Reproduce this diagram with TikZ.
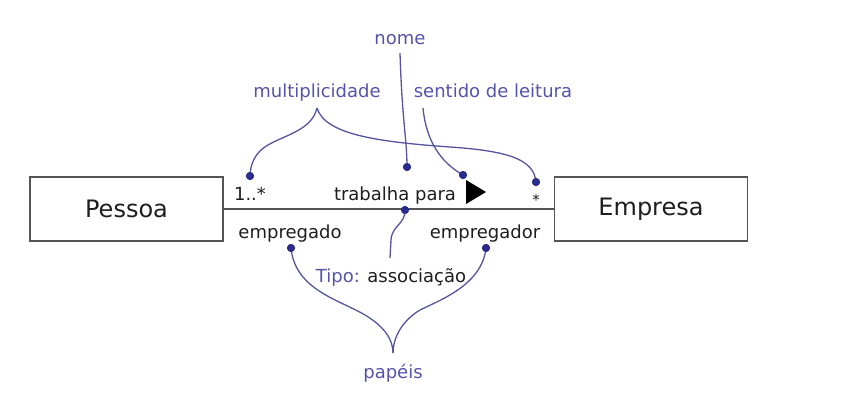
\documentclass[tikz,border=0pt]{standalone}
\usepackage{fontspec}
\setmainfont{DejaVu Sans}
\definecolor{note}{HTML}{5553AA}
\definecolor{dotc}{HTML}{2B2B8C}
\definecolor{linec}{HTML}{55559F}
\definecolor{ink}{HTML}{1E1E1E}
\definecolor{edge}{HTML}{555555}
\begin{document}
\begin{tikzpicture}[x=1pt,y=-1pt,
  cls/.style={draw=edge,line width=1.5pt,minimum width=193pt,minimum height=64pt,inner sep=0pt,font=\fontsize{24}{28}\selectfont,text=ink},
  lbl/.style={anchor=base,inner sep=0pt,font=\fontsize{18}{21}\selectfont,text=ink},
  note/.style={anchor=base,inner sep=0pt,font=\fontsize{18}{21}\selectfont,text=note},
  pin/.style={circle,fill=dotc,inner sep=0pt,minimum size=8pt},
  lead/.style={draw=linec,line width=1.3pt}]
\useasboundingbox (0,0) rectangle (841,404);
% classes
\node[cls] (pessoa) at (126.5,209) {Pessoa};
\node[cls] (empresa) at (651,209) {Empresa};
\draw[edge,line width=1.5pt] (pessoa.east) -- (empresa.west);
% association labels
\node[lbl] (mleft) at (250,200) {1..*};
\node[lbl] (assoc) at (395,200) {trabalha para};
\node[lbl,font=\fontsize{15}{18}\selectfont] (mright) at (536,205) {*};
\node[lbl] (rleft) at (290,238) {empregado};
\node[lbl] (rright) at (485,238) {empregador};
\fill[black] (466,180) -- (486,192) -- (466,204) -- cycle;
% annotation texts
\node[note] (nome) at (400,45) {nome};
\node[note] (mult) at (317,97) {multiplicidade};
\node[note] (sent) at (493,97) {sentido de leitura};
\node[anchor=base,inner sep=0pt,font=\fontsize{18}{21}\selectfont] (tipo) at (391,282) {\textcolor{note}{Tipo:} \textcolor{ink}{associação}};
\node[note] (papeis) at (393,378) {papéis};
% pins
\node[pin] (pm) at (250,176) {};
\node[pin] (pn) at (407,167) {};
\node[pin] (ps) at (463,175) {};
\node[pin] (pr) at (536,182) {};
\node[pin] (pt) at (405,210) {};
\node[pin] (pe) at (291,248) {};
\node[pin] (pd) at (486,248) {};
% brace tips
\coordinate (mtip) at (317,108);
\coordinate (ptip) at (393,353);
\coordinate (stop) at (423,108);
\coordinate (ntop) at (400,53);
\coordinate (ttop) at (390,258);
% leaders
\draw[lead] (mtip) .. controls (312,130) and (285,135) .. (268,145) .. controls (255,152) and (250,165) .. (pm.center);
\draw[lead] (mtip) .. controls (325,135) and (380,142) .. (450,147) .. controls (510,151) and (534,160) .. (pr.center);
\draw[lead] (stop) .. controls (426,140) and (440,162) .. (ps.center);
\draw[lead] (ntop) .. controls (402,120) and (407,140) .. (pn.center);
\draw[lead] (pt.center) .. controls (405,225) and (392,225) .. (391,240) -- (ttop);
\draw[lead] (pe.center) .. controls (295,290) and (340,300) .. (365,315) .. controls (385,327) and (393,340) .. (ptip);
\draw[lead] (pd.center) .. controls (482,285) and (440,300) .. (420,310) .. controls (400,322) and (393,340) .. (ptip);
% redraw pins on top
\foreach \p in {pm,pn,ps,pr,pt,pe,pd} \fill[dotc] (\p) circle (4pt);
\end{tikzpicture}
\end{document}
